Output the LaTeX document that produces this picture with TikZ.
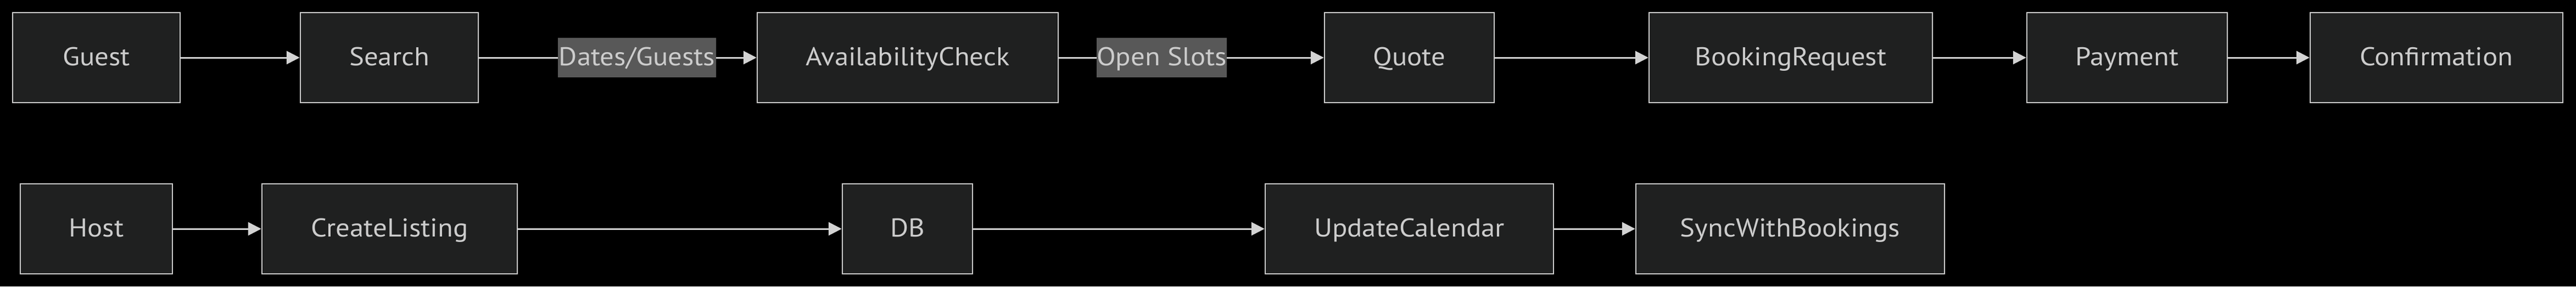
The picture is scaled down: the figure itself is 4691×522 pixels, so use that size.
\documentclass[tikz,border=0pt]{standalone}
\usepackage{fontspec}
\setmainfont[FakeStretch=1.08]{PT Sans}
\usetikzlibrary{arrows.meta}
\definecolor{bg}{HTML}{000000}
\definecolor{boxfill}{HTML}{1F2020}
\definecolor{boxline}{HTML}{CCCCCC}
\definecolor{txt}{HTML}{CCCCCC}
\definecolor{edge}{HTML}{D3D3D3}
\definecolor{labfill}{HTML}{585858}
\tikzset{
  proc/.style={draw=boxline, line width=2.5pt, fill=boxfill, text=txt,
    minimum height=164pt, inner sep=0pt, text height=29pt, text depth=0pt,
    font=\fontsize{47}{50}\selectfont},
  elabel/.style={fill=labfill, text=txt, inner sep=0pt, minimum height=72pt,
    text height=29pt, text depth=0pt, font=\fontsize{47}{50}\selectfont},
  conn/.style={draw=edge, line width=3pt, -{Triangle[length=24pt,width=24pt]}},
  plain/.style={draw=edge, line width=3pt}
}
\begin{document}
\begin{tikzpicture}[x=1pt,y=-1pt]
\fill[bg] (0,0) rectangle (4691,522);
\useasboundingbox (0,0) rectangle (4691,522);
% top row
\node[proc, minimum width=305pt] (guest) at (175.5,105) {Guest};
\node[proc, minimum width=324pt] (search) at (709,105) {Search};
\node[elabel, minimum width=288pt] (dg) at (1160,105) {Dates/Guests};
\node[proc, minimum width=548pt] (avail) at (1653,105) {AvailabilityCheck};
\node[elabel, minimum width=227pt] (os) at (2115.5,105) {Open Slots};
\node[proc, minimum width=309pt] (quote) at (2566.5,105) {Quote};
\node[proc, minimum width=516pt] (book) at (3261,105) {BookingRequest};
\node[proc, minimum width=365pt] (pay) at (3873.5,105) {Payment};
\node[proc, minimum width=460pt] (conf) at (4437,105) {Confirmation};
% bottom row
\node[proc, minimum width=277pt] (host) at (175.5,417) {Host};
\node[proc, minimum width=465pt] (create) at (709.5,417) {CreateListing};
\node[proc, minimum width=237pt] (db) at (1652.5,417) {DB};
\node[proc, minimum width=525pt] (upd) at (2566.5,417) {UpdateCalendar};
\node[proc, minimum width=562pt] (sync) at (3260,417) {SyncWithBookings};
% edges
\draw[conn] (guest) -- (search);
\draw[plain] (search) -- (dg);
\draw[conn] (dg) -- (avail);
\draw[plain] (avail) -- (os);
\draw[conn] (os) -- (quote);
\draw[conn] (quote) -- (book);
\draw[conn] (book) -- (pay);
\draw[conn] (pay) -- (conf);
\draw[conn] (host) -- (create);
\draw[conn] (create) -- (db);
\draw[conn] (db) -- (upd);
\draw[conn] (upd) -- (sync);
\end{tikzpicture}
\end{document}
